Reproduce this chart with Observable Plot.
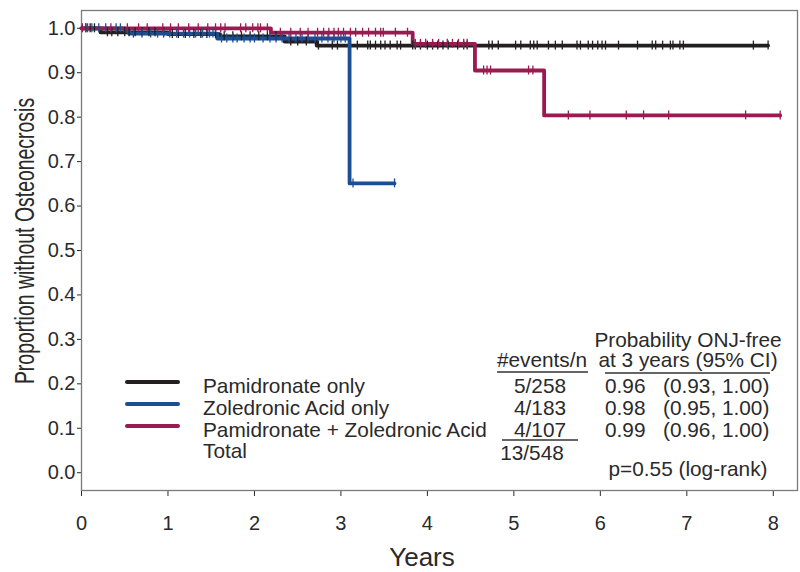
<!DOCTYPE html>
<html><head><meta charset="utf-8">
<script src="https://cdn.jsdelivr.net/npm/d3@7"></script>
<script src="https://cdn.jsdelivr.net/npm/@observablehq/plot@0.6"></script>
<style>body{margin:0;background:#fff;} #chart{width:800px;height:572px;}</style>
</head><body><div id="chart"></div>
<script>
// ---- data ----
const groups = ["Pamidronate only", "Zoledronic Acid only", "Pamidronate + Zoledronic Acid"];
const colors = ["#231f20", "#1b4f93", "#991b52"];
// Kaplan-Meier step points (time in years, survival) and last follow-up
const pamTimes = [0, 0.22, 1.0, 1.6, 2.35, 2.72];
const pamSurv  = [1.0, 0.991, 0.987, 0.982, 0.970, 0.961];
const pamEnd = 7.94;
const zolTimes = [0, 0.5, 0.55, 1.57, 3.1];
const zolSurv  = [1.0, 0.994, 0.988, 0.977, 0.651];
const zolEnd = 3.62;
const bothTimes = [0, 2.19, 3.83, 4.55, 5.35];
const bothSurv  = [1.0, 0.990, 0.965, 0.905, 0.804];
const bothEnd = 8.08;
// censoring times
const pamCens = [0.05,0.1,0.15,0.3,0.35,0.42,0.5,0.55,0.62,0.7,0.78,0.85,0.95,1.05,1.12,1.2,1.3,1.38,1.45,1.55,1.65,1.75,1.85,1.95,2.05,2.15,2.25,2.42,2.5,2.6,2.74,2.90,2.96,3.19,3.31,3.34,3.40,3.46,3.51,3.57,3.65,3.69,3.83,3.86,3.92,4.0,4.06,4.12,4.18,4.24,4.35,4.42,4.46,4.71,4.75,4.82,5.02,5.08,5.19,5.23,5.27,5.40,5.48,5.56,5.73,5.77,5.86,5.91,5.97,6.02,6.06,6.21,6.43,6.60,6.64,6.72,6.81,6.84,6.92,6.96,7.77,7.94];
const zolCens = [0.05,0.12,0.2,0.28,0.4,0.45,0.6,0.7,0.8,0.88,0.95,1.02,1.1,1.18,1.25,1.32,1.4,1.48,1.52,1.62,1.68,1.75,1.8,1.88,1.95,2.0,2.1,2.18,2.25,2.32,2.4,2.48,2.55,2.62,2.7,2.78,2.85,2.92,3.0,3.05,3.14,3.62];
const bothCens = [0.01,0.07,0.34,0.53,0.66,0.76,0.94,1.03,1.12,1.24,1.35,1.46,1.55,1.61,1.66,1.84,1.90,1.98,2.04,2.07,2.15,2.30,2.42,2.53,2.62,2.73,2.80,2.86,2.92,2.97,3.03,3.11,3.17,3.25,3.32,3.40,3.46,3.49,3.63,3.77,3.86,3.92,3.98,4.06,4.13,4.23,4.29,4.36,4.42,4.46,4.65,4.69,4.73,5.17,5.22,5.63,5.88,6.30,6.50,6.79,7.68,8.08];
// table
const eventsN = ["5/258", "4/183", "4/107"];
const eventsTotal = "13/548";
const prob3 = ["0.96", "0.98", "0.99"];
const ci3 = ["(0.93, 1.00)", "(0.95, 1.00)", "(0.96, 1.00)"];
const pText = "p=0.55 (log-rank)";
const xTicks = [0,1,2,3,4,5,6,7,8];
const yTicks = [0,0.1,0.2,0.3,0.4,0.5,0.6,0.7,0.8,0.9,1.0];

// ---- build rows ----
const series = [
  {g: groups[0], times: pamTimes, surv: pamSurv, end: pamEnd, cens: pamCens},
  {g: groups[1], times: zolTimes, surv: zolSurv, end: zolEnd, cens: zolCens},
  {g: groups[2], times: bothTimes, surv: bothSurv, end: bothEnd, cens: bothCens}
];
const lineRows = [], censRows = [];
for (const s of series) {
  s.times.forEach((t, i) => lineRows.push({group: s.g, t, s: s.surv[i]}));
  lineRows.push({group: s.g, t: s.end, s: s.surv[s.surv.length - 1]});
  for (const c of s.cens) {
    const i = d3.bisectRight(s.times, c) - 1;
    censRows.push({group: s.g, t: c, s: s.surv[Math.max(0, i)]});
  }
}

const font = "'Liberation Sans', Arial, sans-serif";
const plot = Plot.plot({
  width: 800, height: 572,
  marginLeft: 81, marginRight: 3, marginTop: 10, marginBottom: 82,
  style: {fontFamily: font, fontSize: "20px", color: "#2a2a2a", background: "#fff", overflow: "visible"},
  x: {domain: [0, 8.28], ticks: xTicks, tickFormat: d => String(d), label: null, tickSize: 6, tickPadding: 19},
  y: {domain: [-0.04, 1.04], ticks: yTicks, tickFormat: d3.format(".1f"), label: null, tickSize: 4, tickPadding: 2},
  color: {domain: groups, range: colors},
  marks: [
    Plot.frame({stroke: "#7a7a7a", strokeWidth: 1.3}),
    Plot.line(lineRows, {x: "t", y: "s", z: "group", stroke: "group", curve: "step-after", strokeWidth: 3.8}),
    Plot.ruleX(censRows, {x: "t", y1: "s", y2: "s", stroke: "group", strokeWidth: 1.3, insetTop: -4.5, insetBottom: -4.5})
  ]
});
document.getElementById("chart").appendChild(plot);

// ---- titles, legend, table ----
const svg = d3.select(plot);
const g = svg.append("g").attr("font-family", font).attr("fill", "#2a2a2a").attr("text-anchor", "start").attr("font-size", 20.8);
g.append("text").attr("transform", "translate(34,241) rotate(-90) scale(0.72,1)").attr("text-anchor", "middle")
  .attr("font-size", 27).text("Proportion without Osteonecrosis");
g.append("text").attr("x", 422).attr("y", 566).attr("text-anchor", "middle").attr("font-size", 26).text("Years");

const rowY = [393, 415, 437];
groups.forEach((name, i) => {
  g.append("line").attr("x1", 127).attr("x2", 178).attr("y1", rowY[i] - 11).attr("y2", rowY[i] - 11)
    .attr("stroke", colors[i]).attr("stroke-width", 4).attr("stroke-linecap", "round");
  g.append("text").attr("x", 203).attr("y", rowY[i]).text(name);
  g.append("text").attr("x", 540).attr("y", rowY[i]).attr("text-anchor", "middle").text(eventsN[i]);
  g.append("text").attr("x", 605).attr("y", rowY[i]).text(prob3[i]);
  g.append("text").attr("x", 663).attr("y", rowY[i]).text(ci3[i]);
});
g.append("text").attr("x", 203).attr("y", 458).text("Total");
g.append("text").attr("x", 532).attr("y", 460).attr("text-anchor", "middle").text(eventsTotal);
g.append("text").attr("x", 542).attr("y", 367).attr("text-anchor", "middle").text("#events/n");
g.append("text").attr("x", 688).attr("y", 347).attr("text-anchor", "middle").text("Probability ONJ-free");
g.append("text").attr("x", 688).attr("y", 367).attr("text-anchor", "middle").text("at 3 years (95% CI)");
g.append("text").attr("x", 688).attr("y", 476).attr("text-anchor", "middle").text(pText);
// underlines
[[497, 588, 372], [605, 770, 373], [502, 578, 440]].forEach(([a, b, y]) =>
  g.append("line").attr("x1", a).attr("x2", b).attr("y1", y).attr("y2", y).attr("stroke", "#333").attr("stroke-width", 1.3));
</script></body></html>
